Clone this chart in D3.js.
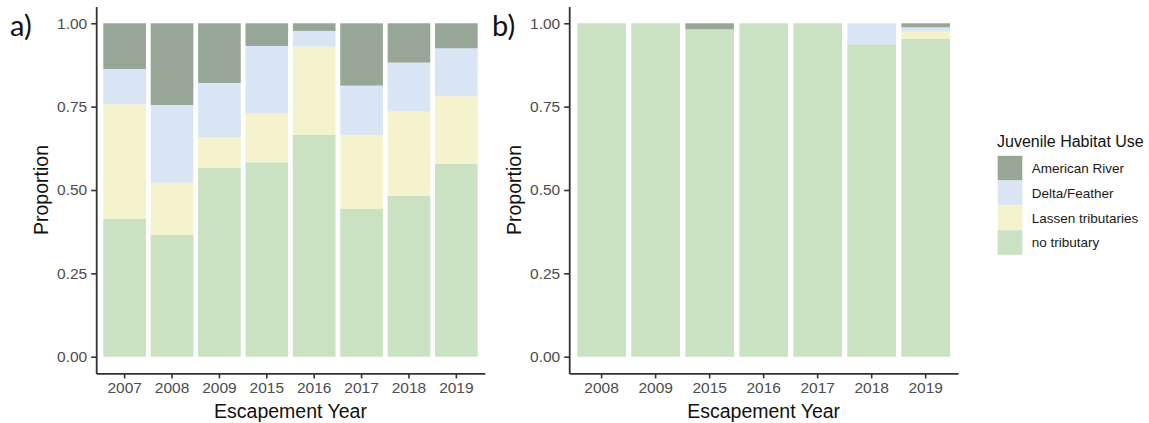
<!DOCTYPE html>
<html>
<head>
<meta charset="utf-8">
<script src="https://cdn.jsdelivr.net/npm/d3@7"></script>
<style>
  body { margin: 0; background: #fff; }
  svg { display: block; font-family: "Liberation Sans", Arial, sans-serif; }
</style>
</head>
<body>
<svg id="chart" width="1149" height="423"></svg>
<script>
// ---------- DATA ----------
const seriesKeys = ["no tributary", "Lassen tributaries", "Delta/Feather", "American River"];
const legendOrder = ["American River", "Delta/Feather", "Lassen tributaries", "no tributary"];
const yTicks = [0, 0.25, 0.5, 0.75, 1.0];

// Panel a
const yearsA = ["2007", "2008", "2009", "2015", "2016", "2017", "2018", "2019"];
const noTribA   = [0.414, 0.365, 0.566, 0.583, 0.666, 0.443, 0.483, 0.579];
const lassenA   = [0.343, 0.157, 0.091, 0.147, 0.264, 0.222, 0.252, 0.202];
const deltaA    = [0.106, 0.233, 0.164, 0.202, 0.047, 0.148, 0.147, 0.144];
const americanA = [0.137, 0.245, 0.179, 0.068, 0.023, 0.187, 0.118, 0.075];

// Panel b
const yearsB = ["2008", "2009", "2015", "2016", "2017", "2018", "2019"];
const noTribB   = [1.000, 1.000, 0.982, 1.000, 1.000, 0.937, 0.953];
const lassenB   = [0.000, 0.000, 0.000, 0.000, 0.000, 0.000, 0.022];
const deltaB    = [0.000, 0.000, 0.000, 0.000, 0.000, 0.063, 0.013];
const americanB = [0.000, 0.000, 0.018, 0.000, 0.000, 0.000, 0.012];

// ---------- STYLE ----------
const colors = {
  "American River": "#98a697",
  "Delta/Feather": "#d9e4f4",
  "Lassen tributaries": "#f5f3cd",
  "no tributary": "#cae1c2"
};

const svg = d3.select("#chart");

function buildRows(years, nt, la, de, am) {
  return years.map((y, i) => ({
    year: y,
    "no tributary": nt[i],
    "Lassen tributaries": la[i],
    "Delta/Feather": de[i],
    "American River": am[i]
  }));
}

function drawPanel(opts) {
  const { rows, years, left, right, top, bottom, label, labelX } = opts;
  const g = svg.append("g");

  const x = d3.scaleBand().domain(years).range([left, right])
    .paddingInner(0.1).paddingOuter(0.15);
  const y = d3.scaleLinear().domain([-0.05, 1.05]).range([bottom, top]);

  const stacked = d3.stack().keys(seriesKeys)(rows);

  g.selectAll("g.layer").data(stacked).join("g")
    .attr("class", "layer")
    .attr("fill", d => colors[d.key])
    .selectAll("rect").data(d => d).join("rect")
      .attr("x", d => x(d.data.year))
      .attr("width", x.bandwidth())
      .attr("y", d => y(d[1]))
      .attr("height", d => Math.max(0, y(d[0]) - y(d[1])));

  // y axis
  const yAxis = d3.axisLeft(y).tickValues(yTicks).tickFormat(d3.format(".2f"))
    .tickSize(5).tickSizeOuter(0).tickPadding(4);
  const ya = g.append("g").attr("transform", `translate(${left},0)`).call(yAxis);
  ya.select(".domain").attr("stroke", "#333").attr("stroke-width", 1.8);
  ya.selectAll(".tick line").attr("stroke", "#333").attr("stroke-width", 1.6);
  ya.selectAll(".tick text").attr("fill", "#4d4d4d").attr("font-size", 15.5)
    .attr("font-family", "Liberation Sans, Arial, sans-serif");

  // x axis
  const xAxis = d3.axisBottom(x).tickSize(5).tickSizeOuter(0).tickPadding(4);
  const xa = g.append("g").attr("transform", `translate(0,${bottom})`).call(xAxis);
  xa.select(".domain").attr("stroke", "#333").attr("stroke-width", 1.8);
  xa.selectAll(".tick line").attr("stroke", "#333").attr("stroke-width", 1.6);
  xa.selectAll(".tick text").attr("fill", "#4d4d4d").attr("font-size", 15.5)
    .attr("font-family", "Liberation Sans, Arial, sans-serif");

  // axis titles
  g.append("text")
    .attr("x", (left + right) / 2).attr("y", 418)
    .attr("text-anchor", "middle").attr("font-size", 19.5).attr("fill", "#111")
    .text("Escapement Year");
  g.append("text")
    .attr("transform", `translate(${left - 48},${(top + bottom) / 2}) rotate(-90)`)
    .attr("text-anchor", "middle").attr("font-size", 19.5).attr("fill", "#111")
    .text("Proportion");

  // panel label
  g.append("text")
    .attr("x", labelX).attr("y", 36)
    .attr("font-family", "Lato, 'Open Sans', sans-serif")
    .attr("font-size", 29).attr("fill", "#111")
    .text(label);
}

drawPanel({
  rows: buildRows(yearsA, noTribA, lassenA, deltaA, americanA),
  years: yearsA, left: 96.2, right: 484.8, top: 6.6, bottom: 373.4,
  label: "a)", labelX: 10
});
drawPanel({
  rows: buildRows(yearsB, noTribB, lassenB, deltaB, americanB),
  years: yearsB, left: 569.2, right: 958.1, top: 6.6, bottom: 373.4,
  label: "b)", labelX: 492
});

// legend
const lg = svg.append("g");
lg.append("text").attr("x", 997).attr("y", 146.5)
  .attr("font-size", 16).attr("fill", "#111").text("Juvenile Habitat Use");
const keySize = 24.6;
legendOrder.forEach((k, i) => {
  const yy = 155.8 + i * (keySize + 0.2);
  lg.append("rect").attr("x", 997.7).attr("y", yy)
    .attr("width", keySize).attr("height", keySize).attr("fill", colors[k]);
  lg.append("text").attr("x", 1031.7).attr("y", yy + keySize / 2 + 4.8)
    .attr("font-size", 13.5).attr("fill", "#1a1a1a").text(k);
});
</script>
</body>
</html>
